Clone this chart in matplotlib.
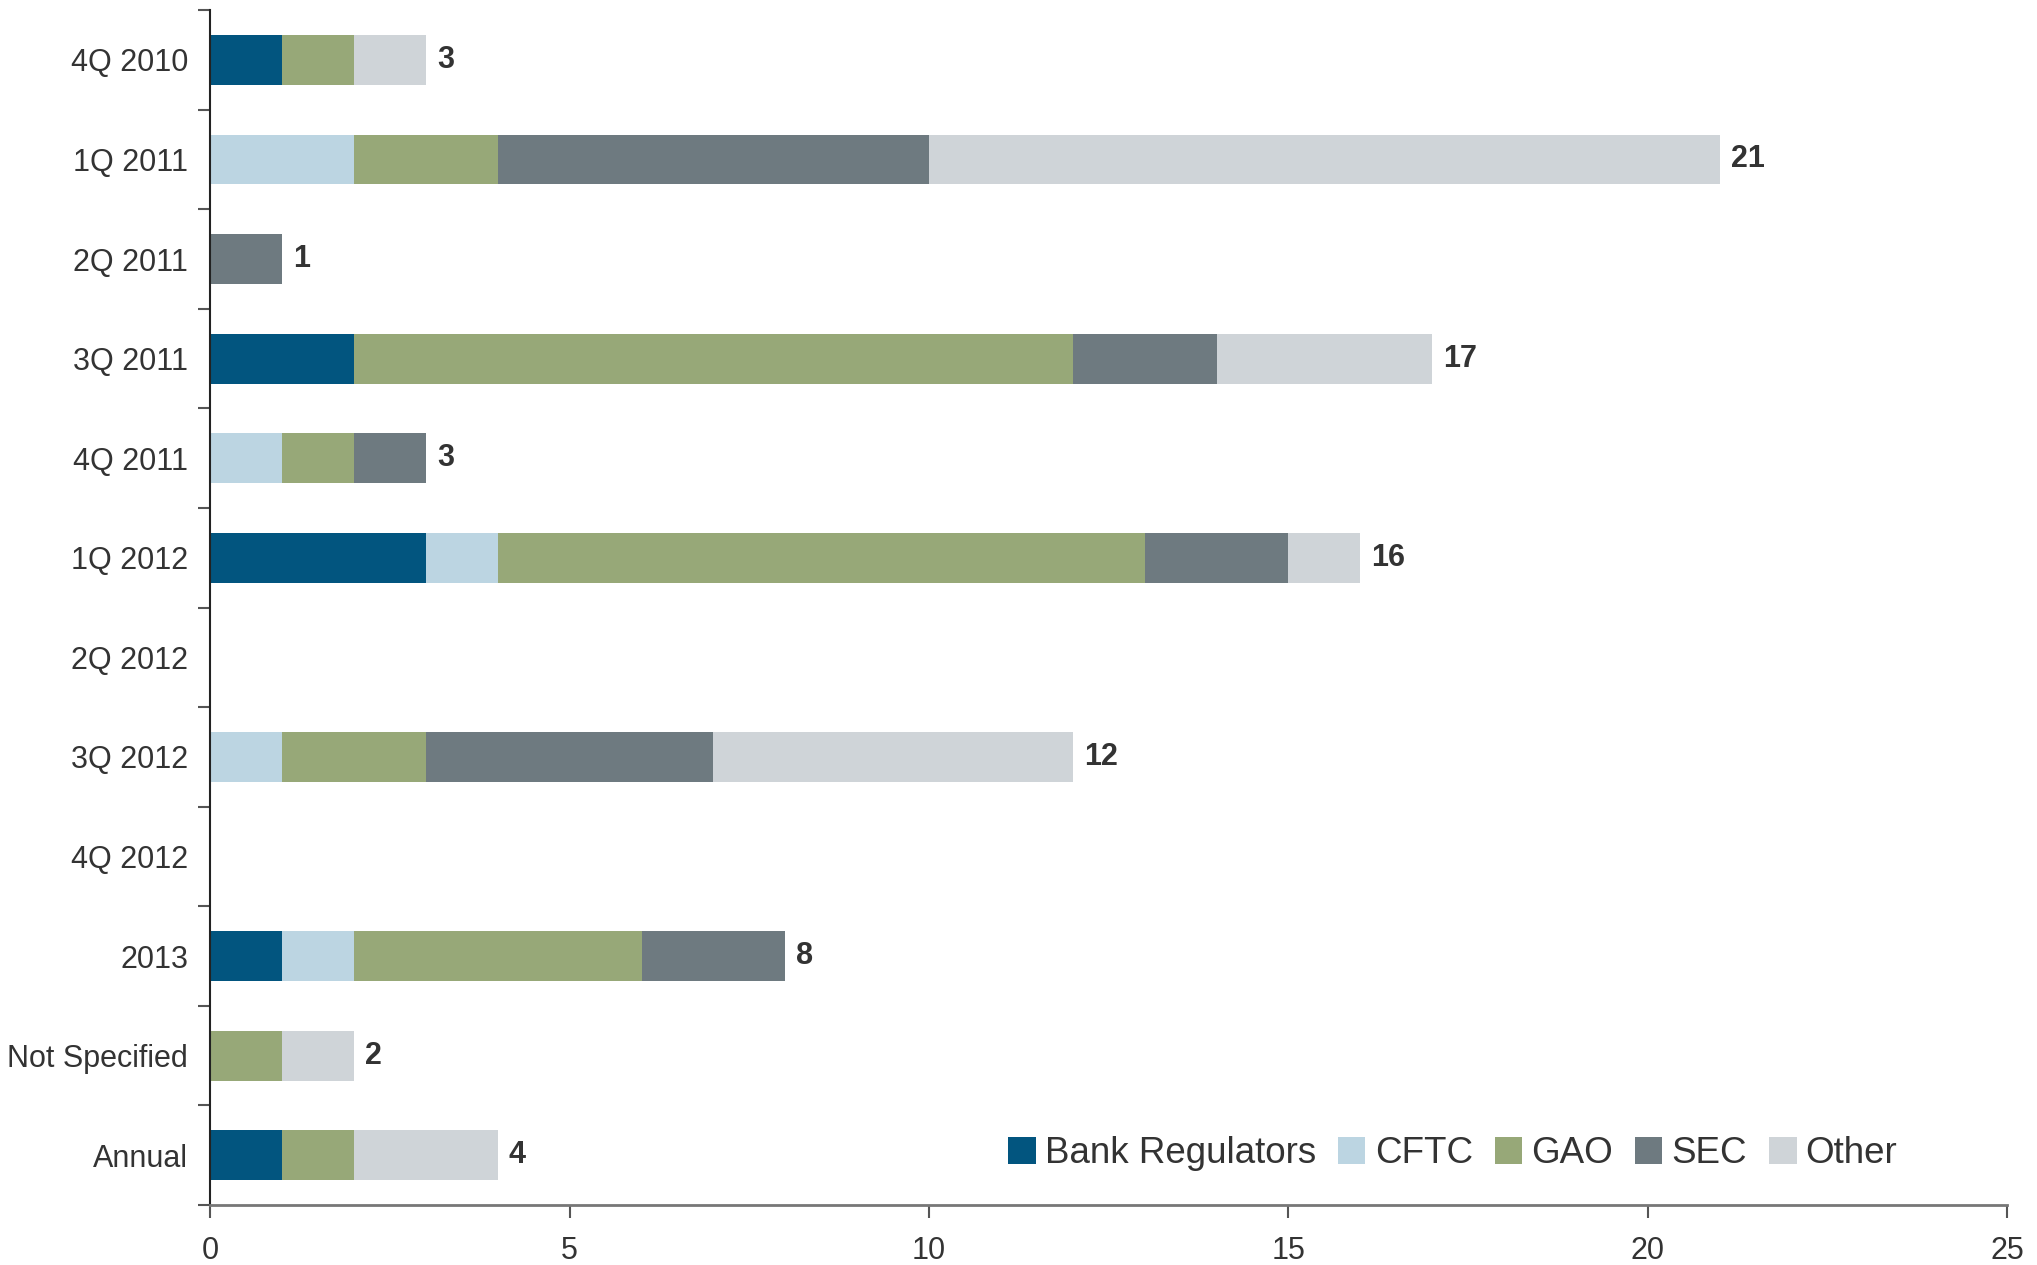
import numpy as np
import matplotlib.pyplot as plt
from matplotlib.ticker import FixedLocator

plt.rcParams['font.family'] = ['Liberation Sans', 'DejaVu Sans']

categories = ['4Q 2010', '1Q 2011', '2Q 2011', '3Q 2011', '4Q 2011', '1Q 2012',
              '2Q 2012', '3Q 2012', '4Q 2012', '2013', 'Not Specified', 'Annual']
bank_regulators = [1, 0, 0, 2, 0, 3, 0, 0, 0, 1, 0, 1]
cftc = [0, 2, 0, 0, 1, 1, 0, 1, 0, 1, 0, 0]
gao = [1, 2, 0, 10, 1, 9, 0, 2, 0, 4, 1, 1]
sec = [0, 6, 1, 2, 1, 2, 0, 4, 0, 2, 0, 0]
other = [1, 11, 0, 3, 0, 1, 0, 5, 0, 0, 1, 2]

series = [('Bank Regulators', bank_regulators, '#02557f'),
          ('CFTC', cftc, '#bcd5e2'),
          ('GAO', gao, '#97a878'),
          ('SEC', sec, '#6e7a80'),
          ('Other', other, '#cfd4d8')]

TEXT = '#333333'

fig = plt.figure(figsize=(20.37, 12.65), dpi=100)
ax = fig.add_axes([0.1033, 0.0474, 0.8820, 0.9446])

y = np.arange(len(categories))
left = np.zeros(len(categories))
for name, vals, col in series:
    vals = np.array(vals, dtype=float)
    ax.barh(y, vals, left=left, height=0.5, color=col, label=name, linewidth=0)
    left += vals

# totals at the end of each bar
totals = left
for yi, t in zip(y, totals):
    if t > 0:
        ax.annotate(f'{int(t)}', xy=(t, yi), xytext=(8, 0), textcoords='offset points',
                    ha='left', va='center', fontsize=22, fontweight='bold', color=TEXT)

ax.set_xlim(0, 25)
ax.set_ylim(len(categories) - 0.5, -0.5)
ax.set_xticks([0, 5, 10, 15, 20, 25])
ax.set_yticks(y)
ax.set_yticklabels(categories)
ax.yaxis.set_minor_locator(FixedLocator(np.arange(-0.5, len(categories), 1.0)))

ax.tick_params(axis='y', which='major', length=0, pad=16, labelsize=22, labelcolor=TEXT)
ax.tick_params(axis='y', which='minor', length=9, width=1.5, color='#555555')
ax.tick_params(axis='x', which='major', length=9, width=1.5, color='#555555',
               pad=13, labelsize=22, labelcolor=TEXT)

for s in ['top', 'right']:
    ax.spines[s].set_visible(False)
ax.spines['left'].set_color('#222222')
ax.spines['left'].set_linewidth(1.5)
ax.spines['bottom'].set_color('#777777')
ax.spines['bottom'].set_linewidth(2)

leg = ax.legend(loc='center left', bbox_to_anchor=(0.436, 0.043), ncol=5, frameon=False,
                fontsize=26.5, handlelength=0.74, handleheight=0.74, handletextpad=0.25,
                columnspacing=0.6, borderaxespad=0)
for t in leg.get_texts():
    t.set_color(TEXT)

fig.savefig('out.png', dpi=100)
